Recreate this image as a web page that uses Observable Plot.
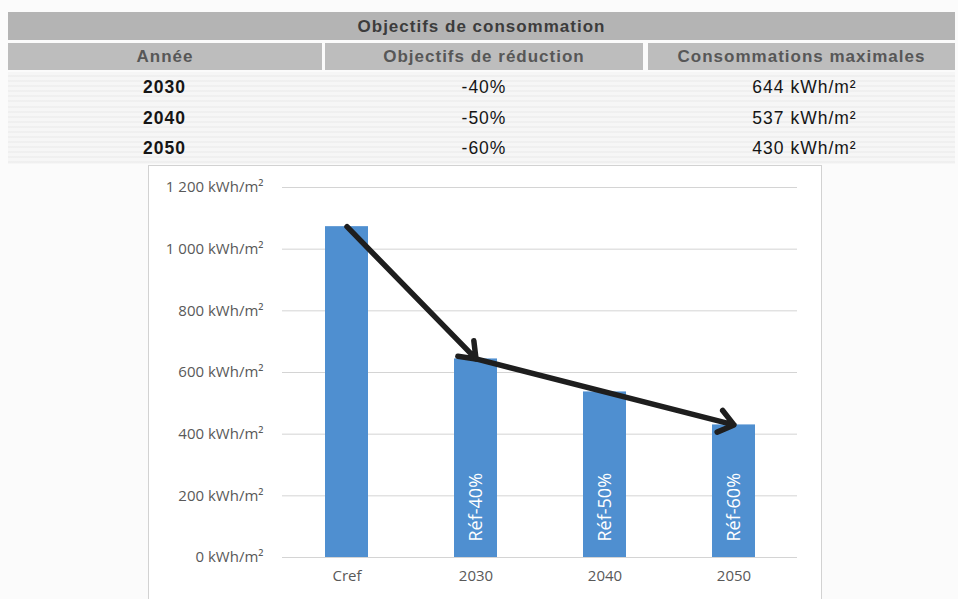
<!DOCTYPE html>
<html>
<head>
<meta charset="utf-8">
<script src="https://cdn.jsdelivr.net/npm/d3@7"></script>
<script src="https://cdn.jsdelivr.net/npm/@observablehq/plot@0.6"></script>
<style>
  html, body { margin: 0; padding: 0; background: #fbfbfb; width: 958px; height: 599px; overflow: hidden; }
  #table { position: absolute; left: 8px; top: 12px; width: 947px; font-family: "Liberation Sans", Arial, sans-serif; letter-spacing: 1px; }
  .title { height: 28px; line-height: 29px; background: #b4b4b4; color: #3c3c3c; font-weight: bold; font-size: 17px; text-align: center; }
  .hdr { display: flex; margin-top: 3px; height: 27px; }
  .hdr div { background: #bdbdbd; color: #575757; font-weight: bold; font-size: 17px; line-height: 28px; text-align: center; }
  .rows { padding-top: 2px; }
  .row { display: flex; height: 30.5px; line-height: 31px; font-size: 17.5px; color: #151515;
         background: repeating-linear-gradient(180deg, #f6f6f6 0px, #f6f6f6 3px, #e9e9e9 4px, #f6f6f6 5px); }
  .c1 { width: 314px; margin-right: 3px; }
  .c2 { width: 318px; margin-right: 5px; }
  .c3 { width: 307px; }
  .row .c1 { font-weight: bold; text-align: left; padding-left: 135px; width: 179px; }
  .row .c2, .row .c3 { text-align: center; }
  .row .c3 { padding-left: 6px; width: 301px; }
  #chart { position: absolute; left: 148px; top: 165px; width: 672px; height: 440px; background: #fff; border: 1px solid #d2d2d2; }
</style>
</head>
<body>
<div id="table"></div>
<div id="chart"></div>
<script>
// ---- Table data ----
const tableTitle = "Objectifs de consommation";
const tableHeaders = ["Année", "Objectifs de réduction", "Consommations maximales"];
const tableYears = ["2030", "2040", "2050"];
const tableReductions = ["-40%", "-50%", "-60%"];
const tableMaxima = [644, 537, 430];
const unit = "kWh/m²";

// ---- Chart data ----
const categories = ["Cref", "2030", "2040", "2050"];
const values = [1073, 644, 537, 430];
const barLabels = ["", "Réf-40%", "Réf-50%", "Réf-60%"];
const yTicks = [0, 200, 400, 600, 800, 1000, 1200];
const arrowFrom = ["Cref", "2030"];
const arrowTo = ["2030", "2050"];

// ---- Build table ----
const t = document.getElementById("table");
let html = `<div class="title">${tableTitle}</div>`;
html += `<div class="hdr"><div class="c1">${tableHeaders[0]}</div><div class="c2">${tableHeaders[1]}</div><div class="c3">${tableHeaders[2]}</div></div>`;
html += `<div class="rows">`;
tableYears.forEach((y, i) => {
  html += `<div class="row"><div class="c1">${y}</div><div class="c2">${tableReductions[i]}</div><div class="c3">${tableMaxima[i]} ${unit}</div></div>`;
});
html += `</div>`;
t.innerHTML = html;

// ---- Build chart ----
const bars = categories.map((c, i) => ({cat: c, value: values[i], label: barLabels[i]}));
const valueOf = Object.fromEntries(categories.map((c, i) => [c, values[i]]));
const arrows = arrowFrom.map((f, i) => ({from: f, to: arrowTo[i], v1: valueOf[f], v2: valueOf[arrowTo[i]]}));

const fr = d3.formatLocale({decimal: ",", thousands: " ", grouping: [3], currency: ["", ""]}).format(",");
const font = "'Open Sans', 'Noto Sans', sans-serif";

const plot = Plot.plot({
  width: 672,
  height: 440,
  marginLeft: 133,
  marginRight: 24,
  marginTop: 21,
  marginBottom: 49,
  style: {fontFamily: font, fontSize: "15px", color: "#595959", background: "transparent"},
  x: {domain: categories, paddingInner: 0.67, paddingOuter: 0.32, label: null},
  y: {domain: [0, 1200], label: null},
  marks: [
    Plot.gridY(yTicks, {stroke: "#d4d4d4", strokeOpacity: 1}),
    Plot.axisY(yTicks, {tickSize: 0, tickPadding: 19, tickFormat: d => `${fr(d)} ${unit}`, label: null, fontSize: 15}),
    Plot.axisX({tickSize: 0, tickPadding: 13, label: null, fontSize: 15}),
    Plot.barY(bars, {x: "cat", y: "value", fill: "#4f8fd0"}),
    Plot.text(bars.filter(d => d.label), {x: "cat", y: 0, text: "label", rotate: -90, textAnchor: "start", dy: -16, fill: "white", fontSize: 18}),
    Plot.arrow(arrows, {x1: "from", y1: "v1", x2: "to", y2: "v2", stroke: "#1e1e1e", strokeWidth: 5.5, headLength: 5, headAngle: 75})
  ]
});
document.getElementById("chart").appendChild(plot);
</script>
</body>
</html>
